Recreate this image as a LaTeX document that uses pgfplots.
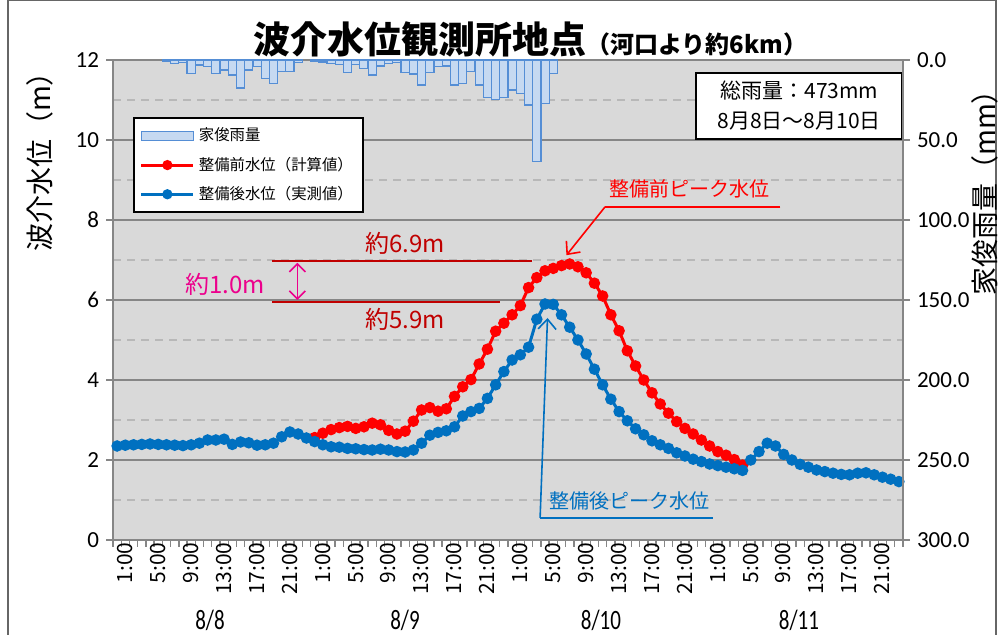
\documentclass[border=0pt]{standalone}
\usepackage{fontspec}
\setmainfont{Noto Sans CJK JP}
\newfontfamily\calfont{Carlito}
\usepackage{pgfplots}
\usepackage{pgfplotstable}
\pgfplotsset{compat=1.18}
\usetikzlibrary{arrows.meta}

\definecolor{bgray}{HTML}{D9D9D9}
\definecolor{axgray}{HTML}{868686}
\definecolor{dashgray}{HTML}{B8B8B8}
\definecolor{barfill}{HTML}{C6D9F1}
\definecolor{barline}{HTML}{558ED5}
\definecolor{wblue}{HTML}{0070C0}
\definecolor{darkred}{HTML}{C00000}

\pgfplotstableread{
i v
0 2.35
1 2.37
2 2.38
3 2.39
4 2.40
5 2.39
6 2.38
7 2.37
8 2.36
9 2.38
10 2.42
11 2.50
12 2.50
13 2.52
14 2.39
15 2.45
16 2.43
17 2.37
18 2.38
19 2.42
20 2.58
21 2.70
22 2.65
23 2.55
24 2.46
25 2.38
26 2.33
27 2.32
28 2.29
29 2.28
30 2.26
31 2.25
32 2.27
33 2.25
34 2.21
35 2.20
36 2.25
37 2.42
38 2.62
39 2.69
40 2.73
41 2.83
42 3.10
43 3.21
44 3.29
45 3.54
46 3.88
47 4.21
48 4.50
49 4.63
50 4.82
51 5.52
52 5.90
53 5.89
54 5.63
55 5.32
56 5.00
57 4.65
58 4.27
59 3.88
60 3.52
61 3.21
62 2.98
63 2.78
64 2.63
65 2.48
66 2.38
67 2.29
68 2.18
69 2.10
70 2.02
71 1.96
72 1.90
73 1.86
74 1.82
75 1.78
76 1.74
77 2.00
78 2.21
79 2.42
80 2.35
81 2.14
82 2.00
83 1.89
84 1.82
85 1.75
86 1.71
87 1.67
88 1.64
89 1.63
90 1.67
91 1.68
92 1.63
93 1.57
94 1.52
95 1.46
}\afterdata

\pgfplotstableread{
i v
24 2.56
25 2.67
26 2.76
27 2.81
28 2.84
29 2.79
30 2.83
31 2.92
32 2.88
33 2.74
34 2.65
35 2.72
36 2.97
37 3.25
38 3.31
39 3.22
40 3.28
41 3.59
42 3.83
43 4.01
44 4.40
45 4.77
46 5.22
47 5.42
48 5.63
49 5.86
50 6.31
51 6.56
52 6.73
53 6.79
54 6.86
55 6.90
56 6.83
57 6.68
58 6.42
59 6.10
60 5.63
61 5.23
62 4.73
63 4.35
64 4.00
65 3.68
66 3.40
67 3.17
68 2.96
69 2.79
70 2.65
71 2.50
72 2.35
73 2.21
74 2.12
75 2.01
76 1.87
}\beforedata

\pgfplotstableread{
i r
6 0.8
7 2.1
8 1.5
9 8.3
10 3.1
11 4.2
12 8.3
13 6.3
14 9.4
15 17.5
16 6.3
17 4.0
18 11.5
19 14.6
20 7.0
21 7.3
22 1.7
24 0.8
25 1.2
26 2.0
27 3.0
28 7.7
29 3.0
30 5.2
31 9.4
32 3.75
33 2.0
34 1.7
35 7.7
36 8.75
37 15.6
38 8.0
39 4.2
40 3.75
41 15.6
42 14.6
43 7.3
44 15.6
45 23.3
46 24.6
47 23.3
48 18.75
49 20.8
50 28.1
51 63.5
52 27.0
53 8.3
}\raindata

\begin{document}
\begin{tikzpicture}[x=1pt,y=1pt]
\useasboundingbox (-56.5,-47.5) rectangle (443,270);
\draw[black!60, line width=0.7pt] (-52.5,-60) rectangle (441.5,269.6);

\begin{axis}[
  at={(0,0)}, anchor=south west,
  scale only axis, width=395pt, height=240pt,
  xmin=-0.5, xmax=95.5, ymin=0, ymax=12,
  axis background/.style={fill=bgray},
  axis line style={draw=axgray, line width=0.9pt},
  ytick={0,2,...,12}, minor ytick={1,3,...,11},
  ymajorgrids, yminorgrids,
  major grid style={draw=axgray, line width=0.9pt},
  minor grid style={draw=dashgray, line width=0.7pt, dash pattern=on 4pt off 3pt},
  minor tick length=0pt, major tick length=3.5pt, tick align=outside,
  tick style={draw=axgray, line width=0.7pt},
  ytick pos=left, xtick pos=bottom,
  xtick={-0.5,0.5,...,95.5}, xticklabels={},
  extra x ticks={0,4,...,92},
  extra x tick labels={1:00,5:00,9:00,13:00,17:00,21:00,1:00,5:00,9:00,13:00,17:00,21:00,1:00,5:00,9:00,13:00,17:00,21:00,1:00,5:00,9:00,13:00,17:00,21:00},
  extra x tick style={major tick length=0pt, xticklabel style={rotate=90, anchor=east, font=\fontsize{10.5}{11}\selectfont, inner sep=1pt, yshift=-4pt}},
  /pgf/number format/assume math mode=true,
  yticklabel style={font=\calfont\fontsize{11.5}{12}\selectfont},
  clip=false,
]
\addplot[color=red, line width=1.5pt, mark=*, mark size=2.1pt, mark options={fill=red, draw=red, solid}] table[x=i, y=v] {\beforedata};
\addplot[color=wblue, line width=1.5pt, mark=*, mark size=2.1pt, mark options={fill=wblue, draw=wblue, solid}] table[x=i, y=v] {\afterdata};

% annotations
\draw[darkred, line width=1pt] (axis cs:18.8,6.97) -- (axis cs:50.4,6.97);
\draw[darkred, line width=1pt] (axis cs:18.8,5.96) -- (axis cs:46.5,5.96);
\node[darkred, font=\fontsize{12}{13}\selectfont] at (axis cs:35,7.42) {約6.9m};
\node[darkred, font=\fontsize{12}{13}\selectfont] at (axis cs:35,5.52) {約5.9m};
\draw[magenta, line width=0.8pt, {Straight Barb[length=4pt,width=8pt]}-{Straight Barb[length=4pt,width=8pt]}] (axis cs:21.9,6.93) -- (axis cs:21.9,6.0);
\node[magenta, font=\fontsize{12}{13}\selectfont] at (axis cs:13.1,6.4) {約1.0m};
\node[red, font=\fontsize{10}{11}\selectfont] at (axis cs:69.6,8.78) {整備前ピーク水位};
\draw[red, line width=1pt] (axis cs:80.6,8.33) -- (axis cs:59.3,8.33);
\draw[red, line width=0.8pt, -{Straight Barb[length=5pt,width=9pt]}] (axis cs:59.3,8.33) -- (axis cs:54.6,7.12);
\node[wblue, font=\fontsize{10}{11}\selectfont] at (axis cs:62.3,0.98) {整備後ピーク水位};
\draw[wblue, line width=1pt] (axis cs:72.4,0.55) -- (axis cs:51.4,0.55);
\draw[wblue, line width=0.8pt, -{Straight Barb[length=5pt,width=9pt]}] (axis cs:51.4,0.55) -- (axis cs:52.3,5.55);

\node[draw=black, line width=0.9pt, fill=white, minimum width=103pt, minimum height=33pt, align=center, font=\fontsize{10.5}{15}\selectfont] at (axis cs:82.9,10.85) {総雨量：473mm\\8月8日～8月10日};
\end{axis}

\begin{axis}[
  at={(0,0)}, anchor=south west,
  scale only axis, width=395pt, height=240pt,
  xmin=-0.5, xmax=95.5, ymin=0, ymax=300, y dir=reverse,
  hide x axis, axis y line*=right,
  axis line style={draw=axgray, line width=0.9pt},
  ytick={0,50,...,300},
  major tick length=3.5pt, tick align=outside,
  tick style={draw=axgray, line width=0.7pt},
  /pgf/number format/assume math mode=true,
  yticklabel={\pgfmathprintnumber[fixed,fixed zerofill,precision=1]{\tick}},
  yticklabel style={font=\calfont\fontsize{11.5}{12}\selectfont},
  legend style={at={(0.0253,0.881)}, anchor=north west, draw=black, line width=0.9pt, fill=white,
    font=\fontsize{7.7}{9}\selectfont, row sep=2.5pt, inner xsep=3pt, inner ysep=3pt},
  legend cell align=left,
  clip=false,
]
\addplot[ybar, bar width=4.1pt, fill=barfill, draw=barline, line width=0.6pt,
  legend image code/.code={\draw[fill=barfill, draw=barline, line width=0.6pt] (0pt,-2.3pt) rectangle (26pt,2.3pt);}] table[x=i, y=r] {\raindata};
\addlegendentry{家俊雨量}
\addlegendimage{red, legend image code/.code={\draw[red, line width=1.5pt] (0pt,0pt) -- (26pt,0pt); \fill[red] (13pt,0pt) circle (2.1pt);}}
\addlegendentry{整備前水位（計算値）}
\addlegendimage{wblue, legend image code/.code={\draw[wblue, line width=1.5pt] (0pt,0pt) -- (26pt,0pt); \fill[wblue] (13pt,0pt) circle (2.1pt);}}
\addlegendentry{整備後水位（実測値）}
\end{axis}

\node[font=\bfseries\fontsize{18.5}{20}\selectfont, anchor=base] at (208.5,243) {波介水位観測所地点{\fontsize{12}{13}\selectfont（河口より約6km）}};
\node[rotate=90, font=\fontsize{14}{15}\selectfont] at (-36.5,192.5) {波介水位（m）};
\node[rotate=90, font=\fontsize{14}{15}\selectfont] at (436,177) {家俊雨量（mm）};
\node[font=\calfont\fontsize{14}{14}\selectfont, xscale=0.75] at (48.5,-40) {8/8};
\node[font=\calfont\fontsize{14}{14}\selectfont, xscale=0.75] at (146,-40) {8/9};
\node[font=\calfont\fontsize{14}{14}\selectfont, xscale=0.75] at (244,-40) {8/10};
\node[font=\calfont\fontsize{14}{14}\selectfont, xscale=0.75] at (343,-40) {8/11};
\end{tikzpicture}
\end{document}
